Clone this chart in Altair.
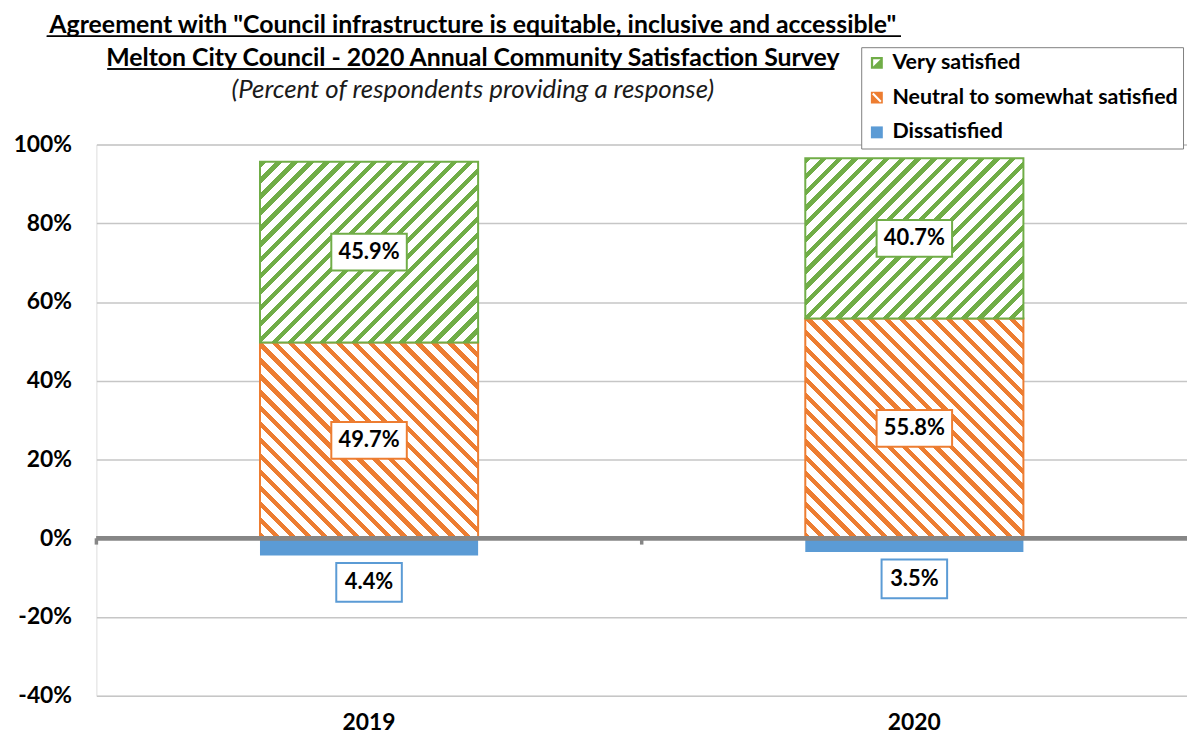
import altair as alt
import pandas as pd

# ---------------- data ----------------
years = ["2019", "2020"]
very_satisfied = [45.9, 40.7]
neutral = [49.7, 55.8]
dissatisfied = [4.4, 3.5]
categories = ["Very satisfied", "Neutral to somewhat satisfied", "Dissatisfied"]
y_ticks = [-40, -20, 0, 20, 40, 60, 80, 100]

title_lines = [
    'Agreement with "Council infrastructure is equitable, inclusive and accessible"',
    "Melton City Council - 2020 Annual Community Satisfaction Survey",
]
subtitle_text = "(Percent of respondents providing a response)"

# ---------------- style ----------------
GREEN = "#70AD47"
ORANGE = "#ED7D31"
BLUE = "#5B9BD5"
AXIS_GREY = "#868686"
GRID_GREY = "#C6C6C6"
FONT = "Lato"

W, H = 1098, 555
Y_MIN, Y_MAX = -0.4, 1.0
PX_PER_UNIT = H / (Y_MAX - Y_MIN)
BAR_FRAC = 0.4
BAR_W = W / len(years) * BAR_FRAC
PERIOD = 16.0      # horizontal stripe period in px
STRIPE = 0.4       # coloured part of each period
TITLE_CX = 379     # title centre, px from plot left


def hatch(color, w, h, rising):
    """Linear gradient with hard stops -> diagonal 45 degree stripes."""
    n = max(1, round((w + h) / PERIOD))
    s = (w + h) / (w * w + h * h)
    if rising:   # "/" stripes
        x1, y1, x2, y2 = 0, 0, s * w, s * h
    else:        # "\" stripes
        x1, y1, x2, y2 = 0, 1, s * w, 1 - s * h
    stops = []
    for i in range(n):
        a = round(i / n, 5)
        b = round((i + STRIPE) / n, 5)
        c = round((i + 1) / n, 5)
        stops += [
            {"offset": a, "color": color},
            {"offset": b, "color": color},
            {"offset": b, "color": "#FFFFFF"},
            {"offset": c, "color": "#FFFFFF"},
        ]
    return {"gradient": "linear", "x1": x1, "y1": y1, "x2": x2, "y2": y2, "stops": stops}


# ---------------- tables ----------------
rows = []
for i, yr in enumerate(years):
    n, v, d = neutral[i] / 100, very_satisfied[i] / 100, dissatisfied[i] / 100
    rows.append(dict(year=yr, cat="Neutral to somewhat satisfied", lo=0.0, hi=n,
                     mid=n / 2, label=f"{neutral[i]:.1f}%"))
    rows.append(dict(year=yr, cat="Very satisfied", lo=n, hi=n + v,
                     mid=n + v / 2, label=f"{very_satisfied[i]:.1f}%"))
    rows.append(dict(year=yr, cat="Dissatisfied", lo=-d, hi=0.0,
                     mid=-d, label=f"{dissatisfied[i]:.1f}%"))
df = pd.DataFrame(rows)
year_df = pd.DataFrame({"year": years})
legend_df = pd.DataFrame({"cat": categories})

y_scale = alt.Scale(domain=[Y_MIN, Y_MAX], nice=False, zero=False)
x_scale = alt.Scale(domain=years, paddingInner=0, paddingOuter=0)

x_enc = alt.X(
    "year:N", scale=x_scale, title=None,
    axis=alt.Axis(orient="bottom", domain=False, ticks=False, tickSize=0, grid=False,
                  labelAngle=0, labelFont=FONT, labelFontSize=23, labelFontWeight="bold",
                  labelColor="black", labelPadding=16),
)
y_axis = alt.Axis(values=[t / 100 for t in y_ticks], labelExpr="round(datum.value*100) + '%'",
                  domain=False, ticks=False, grid=True, gridColor=GRID_GREY, gridWidth=1.5,
                  labelFont=FONT, labelFontSize=23, labelFontWeight="bold", labelColor="black",
                  labelPadding=25, title=None)

base = alt.Chart(df)

layers = []
# hatched bars, one layer each (gradient depends on bar size)
for i, yr in enumerate(years):
    for cat, col, rising, val in [
        ("Neutral to somewhat satisfied", ORANGE, False, neutral[i]),
        ("Very satisfied", GREEN, True, very_satisfied[i]),
    ]:
        h_px = val / 100 * PX_PER_UNIT
        layers.append(
            base.transform_filter(
                (alt.datum.year == yr) & (alt.datum.cat == cat)
            ).mark_bar(
                fill=hatch(col, BAR_W, h_px, rising), stroke=col, strokeWidth=2,
                width=alt.RelativeBandSize(BAR_FRAC),
            ).encode(
                x=x_enc,
                y=alt.Y("lo:Q", scale=y_scale, axis=y_axis),
                y2="hi:Q",
            )
        )

# solid blue bars
layers.append(
    base.transform_filter(alt.datum.cat == "Dissatisfied").mark_bar(
        color=BLUE, width=alt.RelativeBandSize(BAR_FRAC)
    ).encode(x=x_enc, y=alt.Y("lo:Q", scale=y_scale), y2="hi:Q")
)

# thick zero line + small category ticks
layers.append(
    alt.Chart(year_df).mark_rule(color=AXIS_GREY, strokeWidth=4.5).encode(
        y=alt.datum(0), x=alt.value(0), x2=alt.value(W)
    )
)
layers.append(
    alt.Chart(year_df).mark_rule(color=AXIS_GREY, strokeWidth=3.5).encode(
        x=alt.X("year:N", scale=x_scale, bandPosition=0),
        y=alt.datum(0), y2=alt.datum(-0.016),
    )
)


def box_path(w, h):
    r = round(h / w, 4)
    return f"M-1,-{r}L1,-{r}L1,{r}L-1,{r}Z"


# label boxes and texts
for cat, col, bw, bh, yoff in [
    ("Very satisfied", GREEN, 76, 37, 0),
    ("Neutral to somewhat satisfied", ORANGE, 76, 37, 0),
    ("Dissatisfied", BLUE, 66, 39, 27),
]:
    sub = base.transform_filter(alt.datum.cat == cat)
    layers.append(
        sub.mark_point(shape=box_path(bw, bh), size=bw * bw, filled=True, fill="white",
                       stroke=col, strokeWidth=2, opacity=1, yOffset=yoff).encode(
            x=x_enc, y=alt.Y("mid:Q", scale=y_scale)
        )
    )
    layers.append(
        sub.mark_text(font=FONT, fontSize=22, fontWeight="bold", color="black",
                      baseline="middle", align="center", yOffset=yoff).encode(
            x=x_enc, y=alt.Y("mid:Q", scale=y_scale), text="label:N"
        )
    )

# legend (invisible carrier marks)
green_sym = "M-1,-1L1,-1L1,1L-1,1ZM-0.62,-0.62L-0.62,0.62L0.62,-0.62Z"
orange_sym = "M-1,-1L1,-1L1,1L-1,1ZM-0.55,-0.8L-0.8,-0.55L0.55,0.8L0.8,0.55Z"
leg = alt.Legend(orient="none", legendX=770, legendY=-98, title=None,
                 fillColor="white", strokeColor="#7F7F7F", padding=5,
                 rowPadding=12, labelFont=FONT, labelFontSize=21.5, labelFontWeight="bold",
                 labelColor="black", labelLimit=600, labelOffset=5,
                 symbolSize=144, symbolStrokeWidth=0, symbolOpacity=1)
layers.append(
    alt.Chart(legend_df).mark_point(filled=True, opacity=0).encode(
        x=alt.value(0), y=alt.value(0),
        color=alt.Color("cat:N", scale=alt.Scale(domain=categories, range=[GREEN, ORANGE, BLUE]),
                        legend=leg),
        shape=alt.Shape("cat:N", scale=alt.Scale(domain=categories,
                                                 range=[green_sym, orange_sym, "square"]),
                        legend=leg),
    )
)

# titles as text marks (positions relative to the plot's top-left corner)
for txt, ypos, size, weight, style in [
    (title_lines[0], -112, 25, "bold", "normal"),
    (title_lines[1], -79, 25, "bold", "normal"),
    (subtitle_text, -47, 26, "normal", "italic"),
]:
    layers.append(
        alt.Chart(pd.DataFrame({"t": [txt]})).mark_text(
            font=FONT, fontSize=size, fontWeight=weight, fontStyle=style,
            color="black" if style == "normal" else "#1a1a1a",
            align="center", baseline="alphabetic",
        ).encode(text="t:N", x=alt.value(TITLE_CX), y=alt.value(ypos))
    )

# title underlines
layers.append(alt.Chart(year_df).mark_rule(color="black", strokeWidth=1.5).encode(
    x=alt.value(-50), x2=alt.value(810), y=alt.value(-109)))
layers.append(alt.Chart(year_df).mark_rule(color="black", strokeWidth=1.5).encode(
    x=alt.value(11), x2=alt.value(743), y=alt.value(-76)))

chart = alt.layer(*layers).properties(
    width=W, height=H,
    autosize=alt.AutoSizeParams(type="none"),
    padding={"left": 89, "top": 135, "right": 0, "bottom": 37},
).configure_view(stroke=None).configure_legend(strokeWidth=2).configure(background="white")

chart.save("out.html", embed_options={"renderer": "svg", "actions": False})
